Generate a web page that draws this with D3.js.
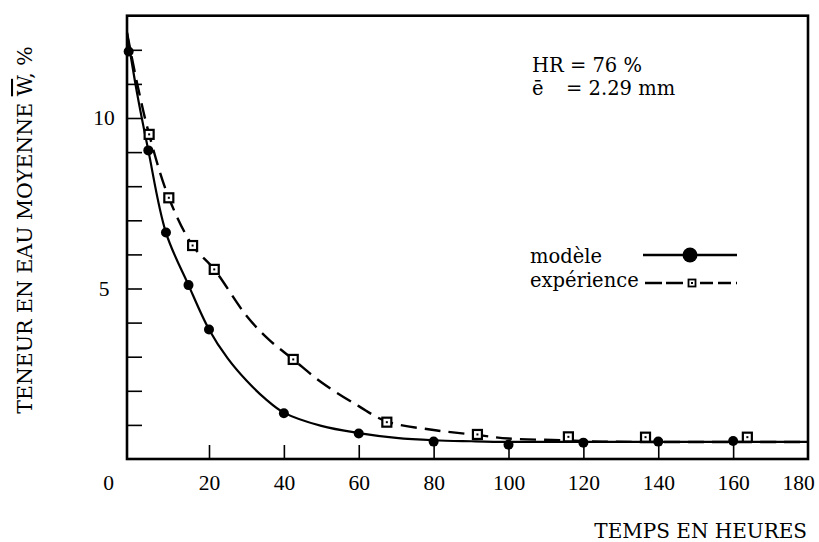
<!DOCTYPE html>
<html><head><meta charset="utf-8">
<script src="https://cdn.jsdelivr.net/npm/d3@7/dist/d3.min.js"></script>
<style>
html,body{margin:0;padding:0;background:#fff;}
svg{display:block;}
</style></head>
<body>
<svg id="chart" width="819" height="542"></svg>
<script>
// ---- data ----
const modelT = [0.4, 5.2, 9.5, 15, 20, 40, 60, 80, 100, 120, 140, 160];
const modelW = [11.95, 9.05, 6.64, 5.1, 3.8, 1.34, 0.75, 0.51, 0.42, 0.48, 0.51, 0.53];
const expT = [5.4, 10.2, 16, 21.4, 42.5, 67.5, 91.7, 116, 136.6, 163.8];
const expW = [9.52, 7.66, 6.26, 5.56, 2.92, 1.08, 0.72, 0.65, 0.64, 0.64];
// fitted curves as drawn
const modelCurveT = [0, 2.5, 5.2, 9.5, 15, 20, 25, 30, 35, 40, 50, 60, 70, 80, 90, 100, 120, 150, 180];
const modelCurveW = [12.5, 10.7, 9.05, 6.64, 5.1, 3.8, 2.95, 2.3, 1.77, 1.36, 0.97, 0.76, 0.62, 0.55, 0.52, 0.5, 0.5, 0.5, 0.5];
const expCurveT = [0, 2.5, 5.4, 10.2, 16, 21.4, 30, 36, 42.5, 50, 60, 67.5, 80, 92, 100, 115, 125, 150, 180];
const expCurveW = [12.5, 11.0, 9.52, 7.66, 6.26, 5.56, 4.2, 3.5, 2.92, 2.25, 1.55, 1.1, 0.85, 0.7, 0.6, 0.55, 0.51, 0.5, 0.5];
const xTickMarks = [20, 40, 60, 80, 100, 120, 140, 160];
const xTickLabels = [0, 20, 40, 60, 80, 100, 120, 140, 160, 180];
const yTickMarks = [1, 2, 3, 4, 5, 6, 7, 8, 9, 10, 11, 12];
const yTickLabels = [5, 10];
const yTitle = "TENEUR EN EAU MOYENNE ";
const xTitle = "TEMPS EN HEURES";
const legendLabels = ["modèle", "expérience"];
const noteLines = ["HR = 76 %", "ē", "= 2.29 mm"];

// ---- scales ----
const svg = d3.select("#chart");
const x = d3.scaleLinear().domain([0, 20, 180]).range([127, 209, 808]);
const y = d3.scaleLinear().domain([0, 13]).range([459, 15.7]);
const serif = "'DejaVu Serif', serif";
const numFont = "'Liberation Serif', 'Times New Roman', serif";

// x tick marks (inward)
const gxm = svg.append("g").attr("transform", `translate(0,${y(0)})`)
  .call(d3.axisBottom(x).tickValues(xTickMarks).tickSize(-14).tickFormat(""));
gxm.select(".domain").remove();
gxm.selectAll("line").attr("stroke", "#000").attr("stroke-width", 1.6);

// x labels
const gxl = svg.append("g").attr("transform", `translate(0,${y(0)})`)
  .call(d3.axisBottom(x).tickValues(xTickLabels).tickSize(0).tickPadding(16));
gxl.select(".domain").remove();
gxl.selectAll("text").attr("font-family", numFont).attr("font-size", 21.5).attr("fill", "#000")
  .attr("dx", d => d === 0 ? -19 : (d === 180 ? -10 : 0));

// y tick marks
const gym = svg.append("g").attr("transform", `translate(${x(0)},0)`)
  .call(d3.axisLeft(y).tickValues(yTickMarks).tickSize(-15).tickFormat(""));
gym.select(".domain").remove();
gym.selectAll("line").attr("stroke", "#000").attr("stroke-width", 1.6);

// y labels
const gyl = svg.append("g").attr("transform", `translate(${x(0)},0)`)
  .call(d3.axisLeft(y).tickValues(yTickLabels).tickSize(0).tickPadding(0));
gyl.select(".domain").remove();
gyl.selectAll("text").attr("font-family", numFont).attr("font-size", 21.5).attr("fill", "#000")
  .attr("x", -23).attr("text-anchor", "middle");

// frame
svg.append("rect")
  .attr("x", x(0)).attr("y", y(13))
  .attr("width", x(180) - x(0)).attr("height", y(0) - y(13))
  .attr("fill", "none").attr("stroke", "#000").attr("stroke-width", 2.6);

// curves
const line = d3.line().x(d => x(d[0])).y(d => y(d[1])).curve(d3.curveCatmullRom.alpha(0.5));
svg.append("path")
  .attr("d", line(d3.zip(modelCurveT, modelCurveW)))
  .attr("fill", "none").attr("stroke", "#000").attr("stroke-width", 2.2);
svg.append("path")
  .attr("d", line(d3.zip(expCurveT, expCurveW)))
  .attr("fill", "none").attr("stroke", "#000").attr("stroke-width", 2.4)
  .attr("stroke-dasharray", "16,8");

// model dots
svg.append("g").selectAll("circle").data(d3.zip(modelT, modelW)).join("circle")
  .attr("cx", d => x(d[0])).attr("cy", d => y(d[1])).attr("r", 5).attr("fill", "#000");

// exp squares
const sq = svg.append("g").selectAll("g").data(d3.zip(expT, expW)).join("g")
  .attr("transform", d => `translate(${x(d[0])},${y(d[1])})`);
sq.append("rect").attr("x", -4.5).attr("y", -4.5).attr("width", 9).attr("height", 9)
  .attr("fill", "#fff").attr("stroke", "#000").attr("stroke-width", 2.2);
sq.append("rect").attr("x", -1).attr("y", -1).attr("width", 2).attr("height", 2).attr("fill", "#000");

// annotation
svg.append("text").attr("x", 532).attr("y", 72).attr("font-family", serif).attr("font-size", 19.5)
  .text(noteLines[0]);
svg.append("text").attr("x", 532).attr("y", 95).attr("font-family", serif).attr("font-size", 19.5)
  .text(noteLines[1]);
svg.append("text").attr("x", 566).attr("y", 95).attr("font-family", serif).attr("font-size", 19.5)
  .text(noteLines[2]);

// legend
const lg = svg.append("g");
lg.append("text").attr("x", 530).attr("y", 263).attr("font-family", serif).attr("font-size", 19.5).text(legendLabels[0]);
lg.append("text").attr("x", 530).attr("y", 287).attr("font-family", serif).attr("font-size", 19.5).text(legendLabels[1]);
lg.append("line").attr("x1", 643).attr("x2", 737).attr("y1", 255).attr("y2", 255)
  .attr("stroke", "#000").attr("stroke-width", 2.6);
lg.append("circle").attr("cx", 690).attr("cy", 255).attr("r", 7.5).attr("fill", "#000");
lg.append("line").attr("x1", 645).attr("x2", 684).attr("y1", 283).attr("y2", 283)
  .attr("stroke", "#000").attr("stroke-width", 2.6).attr("stroke-dasharray", "17,4");
lg.append("line").attr("x1", 700).attr("x2", 737).attr("y1", 283).attr("y2", 283)
  .attr("stroke", "#000").attr("stroke-width", 2.6).attr("stroke-dasharray", "13,5");
lg.append("rect").attr("x", 688.5).attr("y", 279.5).attr("width", 7).attr("height", 7)
  .attr("fill", "#fff").attr("stroke", "#000").attr("stroke-width", 1.8);
lg.append("rect").attr("x", 691).attr("y", 282).attr("width", 2).attr("height", 2).attr("fill", "#000");

// axis titles
const yt = svg.append("text").attr("transform", "translate(32,230) rotate(-90)")
  .attr("text-anchor", "middle").attr("font-family", serif).attr("font-size", 20.5);
yt.append("tspan").text(yTitle);
yt.append("tspan").attr("text-decoration", "overline").style("text-decoration", "overline").text("W");
yt.append("tspan").text(", %");

svg.append("text").attr("x", 807).attr("y", 538).attr("text-anchor", "end")
  .attr("font-family", serif).attr("font-size", 20).text(xTitle);
</script>
</body></html>
